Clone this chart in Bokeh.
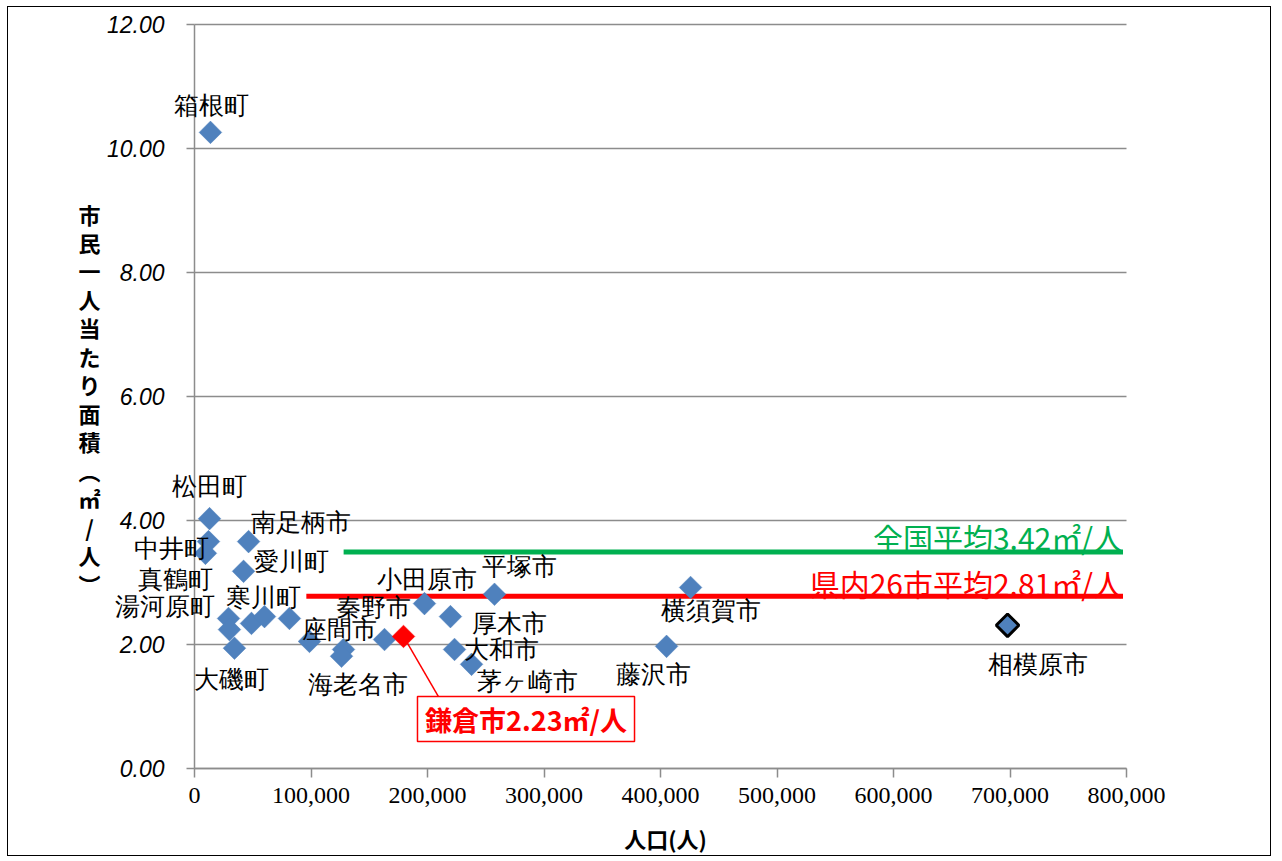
import math
from bokeh.plotting import figure
from bokeh.models import (ColumnDataSource, Label, LabelSet, BoxAnnotation, NumeralTickFormatter,
                          FixedTicker, Range1d)
from bokeh.embed import file_html
from bokeh.resources import INLINE

# ---- data ----
names = ["箱根町", "松田町", "中井町", "真鶴町", "南足柄市", "愛川町", "湯河原町", "", "大磯町", "",
         "寒川町", "", "座間市", "海老名市", "", "秦野市", "鎌倉市", "小田原市", "厚木市", "平塚市",
         "大和市", "茅ヶ崎市", "横須賀市", "藤沢市", "相模原市"]
population = [13700, 12900, 12000, 9400, 46400, 42100, 29200, 30000, 34300, 48900,
              60100, 81500, 98700, 127900, 126200, 163100, 179400, 197400, 219700, 257500,
              223200, 237800, 425800, 405200, 697900]
area = [10.26, 4.03, 3.66, 3.47, 3.66, 3.18, 2.42, 2.24, 1.94, 2.34,
        2.45, 2.42, 2.05, 1.92, 1.81, 2.08, 2.13, 2.66, 2.45, 2.81,
        1.92, 1.68, 2.92, 1.97, 2.31]

national_avg_value = 3.49
national_avg_text = "全国平均3.42㎡/人"
national_avg_start = 128000
pref_avg_value = 2.78
pref_avg_text = "県内26市平均2.81㎡/人"
pref_avg_start = 96000
avg_end = 797000

kamakura_text = "鎌倉市2.23㎡/人"
x_min, x_max = 0, 800000
y_min, y_max = 0, 12
x_ticks = [0, 100000, 200000, 300000, 400000, 500000, 600000, 700000, 800000]
y_ticks = [0, 2, 4, 6, 8, 10, 12]
x_title = "人口(人)"
y_title = "市民一人当たり面積︵㎡/人︶"

# ---- label offsets (screen px, +dy = downward) ----
label_dx = {"箱根町": 1, "松田町": 0, "中井町": -37, "真鶴町": -30, "南足柄市": 52, "愛川町": 48,
            "湯河原町": -64, "寒川町": -1, "大磯町": -3, "座間市": 30, "海老名市": 14, "秦野市": -11,
            "小田原市": 3, "平塚市": 25, "厚木市": 59, "大和市": 47, "茅ヶ崎市": 56, "横須賀市": 20,
            "藤沢市": -13, "相模原市": 30}
label_dy = {"箱根町": -27, "松田町": -32, "中井町": 7, "真鶴町": 26, "南足柄市": -19, "愛川町": -10,
            "湯河原町": -12, "寒川町": -19, "大磯町": 31, "座間市": -12, "海老名市": 35, "秦野市": -32,
            "小田原市": -24, "平塚市": -28, "厚木市": 7, "大和市": 0, "茅ヶ崎市": 17, "横須賀市": 23,
            "藤沢市": 28, "相模原市": 39}

BLUE = "#4F81BD"
GRAY = "#8C8C8C"
fill = []
line_c = []
line_w = []
for n in names:
    if n == "鎌倉市":
        fill.append("#FF0000"); line_c.append("#FF0000"); line_w.append(0.5)
    elif n == "相模原市":
        fill.append(BLUE); line_c.append("#000000"); line_w.append(3)
    else:
        fill.append(BLUE); line_c.append(BLUE); line_w.append(0.5)

lab_text = [n if n in label_dx else "" for n in names]
src = ColumnDataSource(dict(x=population, y=area, name=names, fill=fill, lc=line_c, lw=line_w,
                            lab=lab_text,
                            dx=[label_dx.get(n, 0) for n in names],
                            dy=[-label_dy.get(n, 0) for n in names]))

# ---- geometry (px): the frame fills the whole canvas so nothing is clipped ----
W, H = 1264, 850
PLOT_W, PLOT_H = 932, 744          # px between x 0..800,000 and y 0..12
PAD_L, PAD_R, PAD_T, PAD_B = 186, 146, 17, 89
PX_X = PLOT_W / (x_max - x_min)
PX_Y = PLOT_H / (y_max - y_min)

p = figure(width=W, height=H, output_backend="svg", toolbar_location=None,
           x_range=Range1d(x_min - PAD_L / PX_X, x_max + PAD_R / PX_X),
           y_range=Range1d(y_min - PAD_B / PX_Y, y_max + PAD_T / PX_Y),
           min_border_left=0, min_border_top=0, min_border_right=0, min_border_bottom=0)
p.styles = {"border": "1.5px solid #000000", "box-sizing": "border-box",
            "margin-left": "7px", "margin-top": "6px"}
p.outline_line_color = None
p.background_fill_color = "white"
p.grid.grid_line_color = None

# horizontal gridlines
p.segment(x0=[x_min] * len(y_ticks), x1=[x_max] * len(y_ticks), y0=y_ticks, y1=y_ticks,
          line_color=GRAY, line_width=1.5)

# axes placed at the data origin
p.xaxis.fixed_location = y_min
p.yaxis.fixed_location = x_min
p.xaxis.bounds = (x_min, x_max)
p.yaxis.bounds = (y_min, y_max)
p.xaxis.ticker = FixedTicker(ticks=x_ticks)
p.yaxis.ticker = FixedTicker(ticks=y_ticks)
p.xaxis.formatter = NumeralTickFormatter(format="0,0")
p.yaxis.formatter = NumeralTickFormatter(format="0.00")
for ax in (p.xaxis, p.yaxis):
    ax.axis_line_color = GRAY
    ax.axis_line_width = 1.5
    ax.major_tick_line_color = GRAY
    ax.major_tick_line_width = 1.5
    ax.minor_tick_line_color = None
    ax.major_tick_in = 0
    ax.major_label_text_color = "#000000"
p.xaxis.major_tick_out = 9
p.yaxis.major_tick_out = 8
p.xaxis.major_label_text_font = "Liberation Sans Narrow"
p.xaxis.major_label_text_font_size = "24px"
p.xaxis.major_label_standoff = 10
p.yaxis.major_label_text_font = "Liberation Sans"
p.yaxis.major_label_text_font_style = "italic"
p.yaxis.major_label_text_font_size = "23px"
p.yaxis.major_label_standoff = 22

# axis titles
p.add_layout(Label(x=x_min + (x_max - x_min) * 0.5054, y=y_min - 69 / PX_Y, text=x_title,
                   text_font="Noto Sans CJK JP", text_font_style="bold", text_font_size="22px",
                   text_color="#000000", text_align="center", text_baseline="middle"))
p.add_layout(Label(x=x_min - 105 / PX_X, y=y_min + 571 / PX_Y, text="\n".join(list(y_title)),
                   text_font="Noto Sans CJK JP", text_font_style="bold", text_font_size="22px",
                   text_line_height=0.89, text_color="#000000",
                   text_align="center", text_baseline="top"))

# average lines
p.segment(x0=[national_avg_start], y0=[national_avg_value], x1=[avg_end], y1=[national_avg_value],
          line_color="#00B050", line_width=5)
p.segment(x0=[pref_avg_start], y0=[pref_avg_value], x1=[avg_end], y1=[pref_avg_value],
          line_color="#FF0000", line_width=5)
p.add_layout(Label(x=avg_end, y=national_avg_value + 0.24, text=national_avg_text,
                   text_font="Noto Sans CJK JP", text_font_size="30px", text_color="#00B050",
                   text_align="right", text_baseline="middle"))
p.add_layout(Label(x=avg_end, y=pref_avg_value + 0.21, text=pref_avg_text,
                   text_font="Noto Sans CJK JP", text_font_size="30px", text_color="#FF0000",
                   text_align="right", text_baseline="middle"))

# callout for Kamakura
ki = names.index("鎌倉市")
box_left, box_right, box_bottom, box_top = 191400, 377700, 0.435, 1.16
p.segment(x0=[population[ki]], y0=[area[ki]], x1=[209400], y1=[box_top],
          line_color="#FF0000", line_width=1.5)
p.add_layout(BoxAnnotation(left=box_left, right=box_right, bottom=box_bottom, top=box_top,
                           fill_color="white", fill_alpha=1, line_color="#FF0000", line_width=1.5,
                           line_alpha=1))
p.add_layout(Label(x=(box_left + box_right) / 2, y=(box_bottom + box_top) / 2, text=kamakura_text,
                   text_font="Noto Sans CJK JP", text_font_style="bold", text_font_size="27px",
                   text_color="#FF0000", text_align="center", text_baseline="middle"))

# points
p.scatter("x", "y", source=src, marker="square", angle=math.pi / 4, size=16,
          fill_color="fill", line_color="lc", line_width="lw")

# point labels
p.add_layout(LabelSet(x="x", y="y", text="lab", source=src, x_offset="dx", y_offset="dy",
                      text_font="Noto Sans CJK JP", text_font_size="25px", text_color="#000000",
                      text_align="center", text_baseline="middle"))

open("out.html", "w").write(file_html(p, INLINE))
